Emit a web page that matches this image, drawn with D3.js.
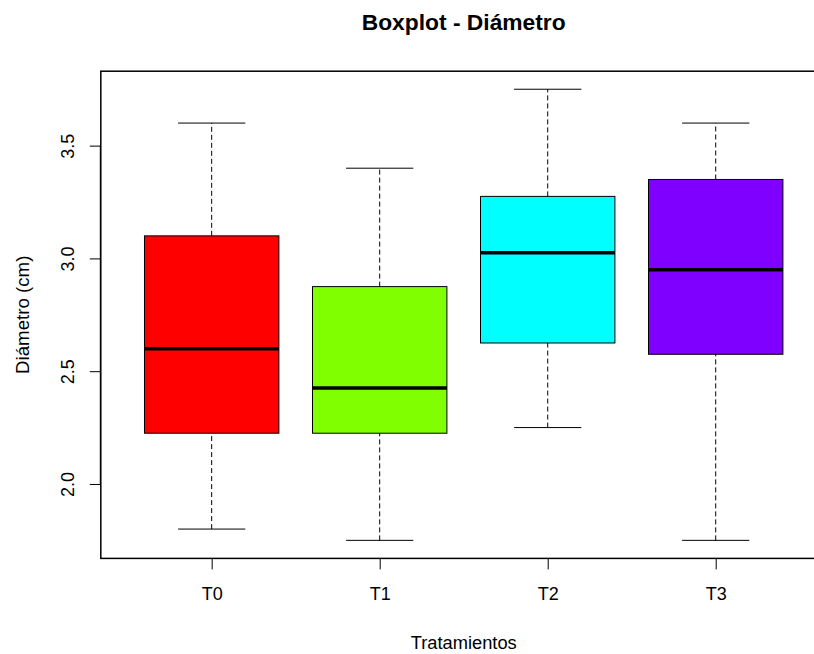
<!DOCTYPE html>
<html>
<head>
<meta charset="utf-8">
<style>
body { margin: 0; background: #fff; }
text { font-family: Arial, "Liberation Sans", sans-serif; fill: #000; }
.plotBox { fill: none; stroke: #000; stroke-width: 1.5px; }
.whisker { stroke: #000; stroke-width: 1px; stroke-dasharray: 5,3; }
.staple { stroke: #000; stroke-width: 1px; }
.box { stroke: #000; stroke-width: 1px; }
.median { stroke: #000; stroke-width: 3.5px; }
.tick line { stroke: #000; }
</style>
</head>
<body>
<div id="chart"></div>
<script src="https://cdn.jsdelivr.net/npm/d3@7"></script>
<script>
// data
const categories = ["T0", "T1", "T2", "T3"];
const lowWhisker = [1.8, 1.75, 2.25, 1.75];
const q1 = [2.225, 2.225, 2.625, 2.575];
const medians = [2.6, 2.425, 3.025, 2.95];
const q3 = [3.1, 2.875, 3.275, 3.35];
const highWhisker = [3.6, 3.4, 3.75, 3.6];
const fills = ["#FF0000", "#80FF00", "#00FFFF", "#8000FF"];
const yTicks = [2.0, 2.5, 3.0, 3.5];

const W = 814, H = 654;
const plot = { left: 100.8, right: 826.6, top: 71.2, bottom: 558.4 };

const svg = d3.select("#chart").append("svg")
  .attr("width", W)
  .attr("height", H);

// R style: range extended by 4% on each side
const n = categories.length;
const xPad = n * 0.04;
const x = d3.scaleLinear()
  .domain([0.5 - xPad, n + 0.5 + xPad])
  .range([plot.left, plot.right]);

const yMin = d3.min(lowWhisker), yMax = d3.max(highWhisker);
const yPad = (yMax - yMin) * 0.04;
const y = d3.scaleLinear()
  .domain([yMin - yPad, yMax + yPad])
  .range([plot.bottom, plot.top]);

const data = categories.map((c, i) => ({
  name: c, pos: i + 1,
  lo: lowWhisker[i], q1: q1[i], med: medians[i], q3: q3[i], hi: highWhisker[i],
  fill: fills[i]
}));

const boxW = x(1.4) - x(1);   // half width, boxwex 0.8
const capW = x(1.2) - x(1);   // half staple width

const g = svg.selectAll(".group").data(data).enter().append("g").attr("class", "group");

g.append("line").attr("class", "whisker")
  .attr("x1", d => x(d.pos)).attr("x2", d => x(d.pos))
  .attr("y1", d => y(d.lo)).attr("y2", d => y(d.q1));
g.append("line").attr("class", "whisker")
  .attr("x1", d => x(d.pos)).attr("x2", d => x(d.pos))
  .attr("y1", d => y(d.q3)).attr("y2", d => y(d.hi));

g.append("line").attr("class", "staple")
  .attr("x1", d => x(d.pos) - capW).attr("x2", d => x(d.pos) + capW)
  .attr("y1", d => y(d.lo)).attr("y2", d => y(d.lo));
g.append("line").attr("class", "staple")
  .attr("x1", d => x(d.pos) - capW).attr("x2", d => x(d.pos) + capW)
  .attr("y1", d => y(d.hi)).attr("y2", d => y(d.hi));

g.append("rect").attr("class", "box")
  .attr("x", d => x(d.pos) - boxW)
  .attr("width", boxW * 2)
  .attr("y", d => y(d.q3))
  .attr("height", d => y(d.q1) - y(d.q3))
  .attr("fill", d => d.fill);

g.append("line").attr("class", "median")
  .attr("x1", d => x(d.pos) - boxW).attr("x2", d => x(d.pos) + boxW)
  .attr("y1", d => y(d.med)).attr("y2", d => y(d.med));

// frame
svg.append("rect").attr("class", "plotBox")
  .attr("x", plot.left).attr("y", plot.top)
  .attr("width", plot.right - plot.left)
  .attr("height", plot.bottom - plot.top);

// x axis
const xAxis = d3.axisBottom(x)
  .tickValues(d3.range(1, n + 1))
  .tickFormat(d => categories[d - 1])
  .tickSize(11)
  .tickPadding(18);
const xg = svg.append("g").attr("transform", `translate(0,${plot.bottom})`).call(xAxis);
xg.select(".domain").remove();
xg.selectAll("text").style("font-size", "18px").attr("fill", "#000");

// y axis
const yAxis = d3.axisLeft(y)
  .tickValues(yTicks)
  .tickFormat(d3.format(".1f"))
  .tickSize(11)
  .tickPadding(0);
const yg = svg.append("g").attr("transform", `translate(${plot.left},0)`).call(yAxis);
yg.select(".domain").attr("d", `M-0.5,${y(yTicks[0])}V${y(yTicks[yTicks.length - 1])}`).attr("stroke", "#000");
yg.selectAll("text")
  .style("font-size", "18px")
  .attr("fill", "#000")
  .attr("x", 0).attr("dy", 0)
  .attr("transform", "translate(-27,0) rotate(-90)")
  .attr("text-anchor", "middle");

// titles
const cx = (plot.left + plot.right) / 2;
svg.append("text")
  .attr("x", cx).attr("y", 30)
  .attr("text-anchor", "middle")
  .style("font-size", "22.8px").style("font-weight", "bold")
  .text("Boxplot - Diámetro");

svg.append("text")
  .attr("x", cx).attr("y", 649)
  .attr("text-anchor", "middle")
  .style("font-size", "18.3px")
  .text("Tratamientos");

svg.append("text")
  .attr("transform", `translate(29,${(plot.top + plot.bottom) / 2}) rotate(-90)`)
  .attr("text-anchor", "middle")
  .style("font-size", "18.7px")
  .text("Diámetro (cm)");
</script>
</body>
</html>
